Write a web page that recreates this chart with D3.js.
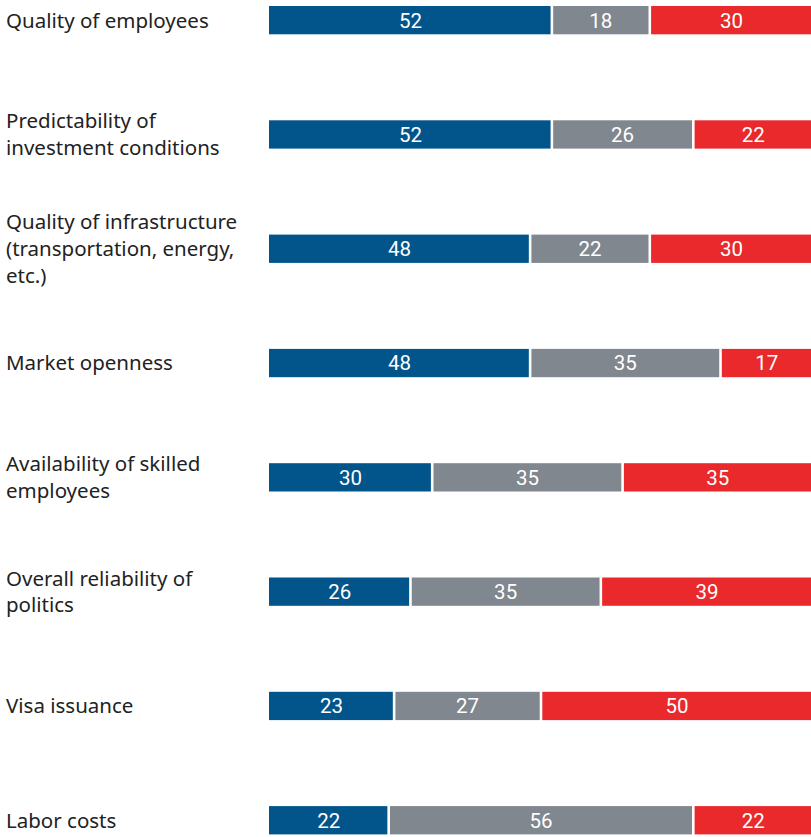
<!DOCTYPE html>
<html>
<head>
<meta charset="utf-8">
<script src="https://cdn.jsdelivr.net/npm/d3@7"></script>
<style>
  html, body { margin: 0; padding: 0; background: #fff; }
  svg { display: block; }
</style>
</head>
<body>
<div id="chart"></div>
<script>
// Survey items, each split into positive / neutral / negative shares (%)
const categories = [
  "Quality of employees",
  "Predictability of investment conditions",
  "Quality of infrastructure (transportation, energy, etc.)",
  "Market openness",
  "Availability of skilled employees",
  "Overall reliability of politics",
  "Visa issuance",
  "Labor costs"
];
const labelLines = [
  ["Quality of employees"],
  ["Predictability of", "investment conditions"],
  ["Quality of infrastructure", "(transportation, energy,", "etc.)"],
  ["Market openness"],
  ["Availability of skilled", "employees"],
  ["Overall reliability of", "politics"],
  ["Visa issuance"],
  ["Labor costs"]
];
const positive = [52, 52, 48, 48, 30, 26, 23, 22];
const neutral  = [18, 26, 22, 35, 35, 35, 27, 56];
const negative = [30, 22, 30, 17, 35, 39, 50, 22];
const seriesKeys = ["positive", "neutral", "negative"];

const W = 811, H = 837;
const colors = { positive: "#02558b", neutral: "#80878e", negative: "#e9292c" };

const rows = categories.map((c, i) => ({
  category: c,
  positive: positive[i],
  neutral: neutral[i],
  negative: negative[i]
}));

const svg = d3.select("#chart").append("svg")
  .attr("width", W).attr("height", H);

const x = d3.scaleLinear().domain([0, 100]).range([269, 813]);
const y = d3.scaleBand().domain(categories).range([6, 834.4]).paddingInner(0.7524).paddingOuter(0);

const stacked = d3.stack().keys(seriesKeys)(rows);
const gap = 1.3;

const layers = svg.append("g").selectAll("g")
  .data(stacked)
  .join("g")
  .attr("fill", d => colors[d.key]);

layers.selectAll("rect")
  .data(d => d)
  .join("rect")
  .attr("x", d => x(d[0]) + (d[0] > 0 ? gap : 0))
  .attr("y", d => y(d.data.category))
  .attr("width", d => x(d[1]) - x(d[0]) - (d[0] > 0 ? gap : 0) - (d[1] < 100 ? gap : 0))
  .attr("height", y.bandwidth());

// Value labels centred in each segment
layers.selectAll("text")
  .data(d => d.map(v => ({ v, key: d.key })))
  .join("text")
  .attr("x", d => (x(d.v[0]) + x(d.v[1])) / 2)
  .attr("y", d => y(d.v.data.category) + y.bandwidth() / 2)
  .attr("dy", "0.36em")
  .attr("text-anchor", "middle")
  .attr("fill", "#fff")
  .style("font-family", "Roboto, 'Noto Sans', sans-serif")
  .style("font-size", "20.5px")
  .style("font-weight", 400)
  .text(d => d.v.data[d.key]);

// Category labels on the left, wrapped and vertically centred on the bar
const lineH = 26.7;
const labels = svg.append("g").selectAll("text")
  .data(categories)
  .join("text")
  .attr("x", 6)
  .attr("fill", "#222")
  .style("font-family", "'Noto Sans', sans-serif")
  .style("font-size", "20.5px");

labels.each(function (c, i) {
  const lines = labelLines[i];
  const cy = y(c) + y.bandwidth() / 2;
  const first = cy - (lines.length - 1) * lineH / 2;
  d3.select(this).selectAll("tspan")
    .data(lines)
    .join("tspan")
    .attr("x", 6)
    .attr("y", (d, j) => first + j * lineH)
    .attr("dy", "0.36em")
    .text(d => d);
});
</script>
</body>
</html>
